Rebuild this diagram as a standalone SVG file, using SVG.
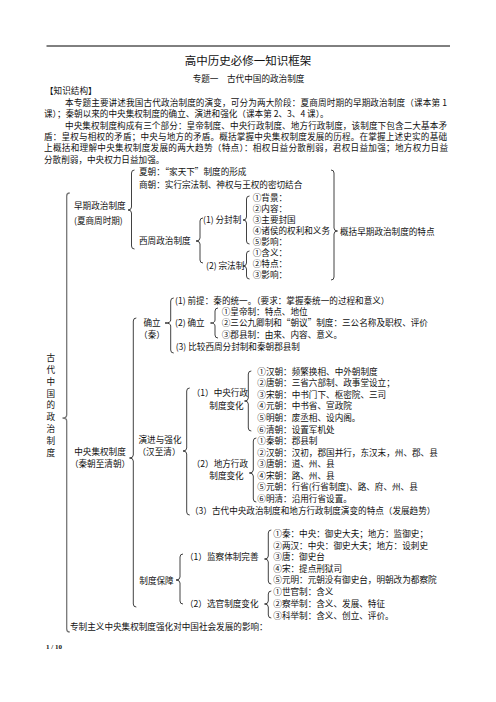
<svg xmlns="http://www.w3.org/2000/svg" width="496" height="702" viewBox="0 0 496 702">
<style>
text { font-family: "Noto Sans CJK SC", "Noto Sans", sans-serif; font-size: 8.6px; fill: #111; }
.title { font-size: 11.5px; }
.sub { font-size: 8.6px; }
.m { text-anchor: middle; }
.pg { font-family: "Liberation Serif", serif; font-size: 7px; font-weight: bold; }
.br { fill: none; stroke: #111; stroke-width: 0.8; }
.bg { fill: none; stroke: #777; stroke-width: 1.3; }
</style>
<rect width="496" height="702" fill="#fff"/>
<g id="header">
<line x1="46.5" y1="46" x2="450" y2="46" stroke="#000" stroke-width="1"/>
<text class="title m" x="248" y="64.5">高中历史必修一知识框架</text>
<text class="sub m" x="248.5" y="82.3">专题一　古代中国的政治制度</text>
<text x="45" y="93.8">【知识结构】</text>
<text x="65" y="105.6" textLength="382" lengthAdjust="spacing">本专题主要讲述我国古代政治制度的演变，可分为两大阶段：夏商周时期的早期政治制度（课本第 1</text>
<text x="44" y="116.6">课）；秦朝以来的中央集权制度的确立、演进和强化（课本第 2、3、4 课）。</text>
<text x="65" y="129" textLength="382" lengthAdjust="spacing">中央集权制度构成有三个部分：皇帝制度、中央行政制度、地方行政制度，该制度下包含二大基本矛</text>
<text x="44" y="140.2" textLength="403" lengthAdjust="spacing">盾：皇权与相权的矛盾；中央与地方的矛盾。概括掌握中央集权制度发展的历程。在掌握上述史实的基础</text>
<text x="44" y="151.4" textLength="404" lengthAdjust="spacing">上概括和理解中央集权制度发展的两大趋势（特点）：相权日益分散削弱，君权日益加强；地方权力日益</text>
<text x="44" y="162.6">分散削弱，中央权力日益加强。</text>
</g>
<g id="connectors">
<path class="bg" d="M69.7,193 Q66.7,193 66.7,196 L66.7,415 Q66.7,418 62.5,418 Q66.7,418 66.7,421 L66.7,629 Q66.7,632 69.7,632"/>
<path class="br" d="M134.5,170 Q131.5,170 131.5,173 L131.5,207 Q131.5,210 128,210 Q131.5,210 131.5,213 L131.5,246 Q131.5,249 134.5,249"/>
<path class="br" d="M203,218 Q200,218 200,221 L200,238 Q200,241 196,241 Q200,241 200,244 L200,260 Q200,263 203,263"/>
<path class="br" d="M249.5,196 Q246.5,196 246.5,199 L246.5,217 Q246.5,220 243,220 Q246.5,220 246.5,223 L246.5,241 Q246.5,244 249.5,244"/>
<path class="br" d="M249.5,251 Q246.5,251 246.5,254 L246.5,263 Q246.5,266 243,266 Q246.5,266 246.5,269 L246.5,276 Q246.5,279 249.5,279"/>
<path class="br" d="M331,170 Q334,170 334,173 L334,228 Q334,231 337.5,231 Q334,231 334,234 L334,277 Q334,280 331,280"/>
<path class="br" d="M136.3,318 Q133.3,318 133.3,321 L133.3,455 Q133.3,458 129.5,458 Q133.3,458 133.3,461 L133.3,604 Q133.3,607 136.3,607"/>
<path class="br" d="M173.7,298 Q170.7,298 170.7,301 L170.7,320 Q170.7,323 165,323 Q170.7,323 170.7,326 L170.7,350 Q170.7,353 173.7,353"/>
<path class="br" d="M218,308 Q215,308 215,311 L215,320 Q215,323 210.5,323 Q215,323 215,326 L215,335 Q215,338 218,338"/>
<path class="br" d="M189.7,388 Q186.7,388 186.7,391 L186.7,448 Q186.7,451 183,451 Q186.7,451 186.7,454 L186.7,512 Q186.7,515 189.7,515"/>
<path class="br" d="M251.3,371 Q248.3,371 248.3,374 L248.3,398 Q248.3,401 244.5,401 Q248.3,401 248.3,404 L248.3,428 Q248.3,431 251.3,431"/>
<path class="br" d="M256.3,438 Q253.3,438 253.3,441 L253.3,470 Q253.3,473 249.3,473 Q253.3,473 253.3,476 L253.3,499 Q253.3,502 256.3,502"/>
<path class="br" d="M183,554 Q180,554 180,557 L180,577 Q180,580 176,580 Q180,580 180,583 L180,601 Q180,604 183,604"/>
<path class="br" d="M271.3,530 Q268.3,530 268.3,533 L268.3,556 Q268.3,559 264.5,559 Q268.3,559 268.3,562 L268.3,581 Q268.3,584 271.3,584"/>
<path class="br" d="M271.3,591 Q268.3,591 268.3,594 L268.3,601 Q268.3,604 264.5,604 Q268.3,604 268.3,607 L268.3,615 Q268.3,618 271.3,618"/>
</g>
<g id="root">
<text class="m" x="50.7" y="361">古</text>
<text class="m" x="50.7" y="372.8">代</text>
<text class="m" x="50.7" y="384.7">中</text>
<text class="m" x="50.7" y="396.5">国</text>
<text class="m" x="50.7" y="408.4">的</text>
<text class="m" x="50.7" y="420.2">政</text>
<text class="m" x="50.7" y="432">治</text>
<text class="m" x="50.7" y="443.9">制</text>
<text class="m" x="50.7" y="455.7">度</text>
</g>
<g id="early">
<text x="74" y="209">早期政治制度</text>
<text x="74" y="223.7">(夏商周时期)</text>
</g>
<g id="xia"><text x="139" y="175.3">夏朝：“家天下”制度的形成</text></g>
<g id="shang"><text x="139" y="188">商朝：实行宗法制、神权与王权的密切结合</text></g>
<g id="xizhou"><text x="139" y="244">西周政治制度</text></g>
<g id="fenfeng">
<text x="203" y="222.5">(1) 分封制</text>
<text x="252.7" y="201.3">①背景：</text>
<text x="252.7" y="212.3">②内容：</text>
<text x="252.7" y="223.3">③主要封国</text>
<text x="252.7" y="234.3">④诸侯的权利和义务</text>
<text x="252.7" y="245.3">⑤影响：</text>
</g>
<g id="zongfa">
<text x="206" y="269">(2) 宗法制</text>
<text x="252.7" y="256.3">①含义：</text>
<text x="252.7" y="267.3">②特点：</text>
<text x="252.7" y="278.3">③影响：</text>
</g>
<g id="gaikuo"><text x="340" y="234.5">概括早期政治制度的特点</text></g>
<g id="central">
<text class="m" x="100" y="454.7">中央集权制度</text>
<text class="m" x="100" y="467">（秦朝至清朝）</text>
</g>
<g id="queli">
<text class="m" x="152" y="325.7">确立</text>
<text class="m" x="152" y="338">（秦）</text>
<text x="175" y="304">(1) 前提：秦的统一。（要求：掌握秦统一的过程和意义）</text>
<text x="175" y="326">(2) 确立</text>
<text x="221.7" y="315">①皇帝制：特点、地位</text>
<text x="221.7" y="326.3">②三公九卿制和“朝议”制度：三公名称及职权、评价</text>
<text x="221.7" y="337.6">③郡县制：由来、内容、意义。</text>
<text x="175.7" y="349.9">(3) 比较西周分封制和秦朝郡县制</text>
</g>
<g id="yanjin">
<text class="m" x="160" y="443">演进与强化</text>
<text class="m" x="159" y="454.7">（汉至清）</text>
</g>
<g id="zhongyang">
<text x="191.7" y="396.3">（1）中央行政</text>
<text x="209.3" y="409">制度变化</text>
<text x="257.3" y="374.7">①汉朝：频繁换相、中外朝制度</text>
<text x="257.3" y="386.3">②唐朝：三省六部制、政事堂设立；</text>
<text x="257.3" y="397.9">③宋朝：中书门下、枢密院、三司</text>
<text x="257.3" y="409.4">④元朝：中书省、宣政院</text>
<text x="257.3" y="421">⑤明朝：废丞相、设内阁。</text>
<text x="257.3" y="432.6">⑥清朝：设置军机处</text>
</g>
<g id="difang">
<text x="191.7" y="467">（2）地方行政</text>
<text x="209.3" y="478.7">制度变化</text>
<text x="257.3" y="444">①秦朝：郡县制</text>
<text x="257.3" y="455.6">②汉朝：汉初，郡国并行，东汉末，州、郡、县</text>
<text x="257.3" y="467.2">③唐朝：道、州、县</text>
<text x="257.3" y="478.8">④宋朝：路、州、县</text>
<text x="257.3" y="490.4">⑤元朝：行省(行省制度)、路、府、州、县</text>
<text x="257.3" y="502">⑥明清：沿用行省设置。</text>
</g>
<g id="tedian"><text x="190" y="513.8">（3）古代中央政治制度和地方行政制度演变的特点（发展趋势）</text></g>
<g id="baozhang"><text x="139.3" y="584">制度保障</text></g>
<g id="jiancha">
<text x="185" y="560.3">（1）监察体制完善</text>
<text x="273.3" y="537">①秦：中央：御史大夫；地方：监御史；</text>
<text x="273.3" y="548.6">②两汉：中央：御史大夫；地方：设刺史</text>
<text x="273.3" y="560.2">③唐：御史台</text>
<text x="273.3" y="571.8">④宋：提点刑狱司</text>
<text x="273.3" y="583.4">⑤元明：元朝没有御史台，明朝改为都察院</text>
</g>
<g id="xuanguan">
<text x="185" y="607.3">（2）选官制度变化</text>
<text x="273.3" y="595.3">①世官制：含义</text>
<text x="273.3" y="606.9">②察举制：含义、发展、特征</text>
<text x="273.3" y="618.5">③科举制：含义、创立、评价。</text>
</g>
<g id="yingxiang"><text x="70" y="629.7">专制主义中央集权制度强化对中国社会发展的影响：</text></g>
<text class="pg" x="46" y="649.3">1 / 10</text>
</svg>
